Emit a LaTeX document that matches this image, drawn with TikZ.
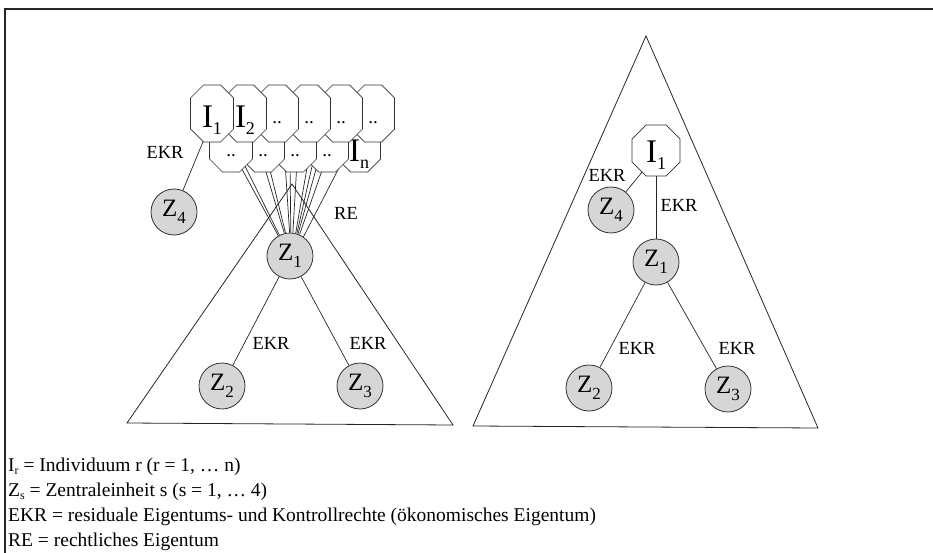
\documentclass[tikz,border=0pt]{standalone}
\usepackage{fontspec}
\setmainfont{Liberation Serif}
\usetikzlibrary{calc,backgrounds}
\newcommand\zsub[1]{\raisebox{-6.5pt}{\fontsize{17}{17}\selectfont #1}}
\newcommand\isub[1]{\raisebox{-6.5pt}{\fontsize{18}{18}\selectfont #1}}
\newcommand\legsub[1]{\raisebox{-3pt}{\fontsize{12}{12}\selectfont #1}}
\newcommand\dotsf{{\fontsize{19}{19}\selectfont ..}}
\newcommand\octnode[8]{%
  \draw[octline] ({#2-#4/2+#6},{#3-#5/2}) -- ({#2+#4/2-#6},{#3-#5/2}) -- ({#2+#4/2},{#3-#5/2+#6}) -- ({#2+#4/2},{#3+#5/2-#6}) -- ({#2+#4/2-#6},{#3+#5/2}) -- ({#2-#4/2+#6},{#3+#5/2}) -- ({#2-#4/2},{#3+#5/2-#6}) -- ({#2-#4/2},{#3-#5/2+#6}) -- cycle;
  \node[octtext] (#1) at (#2,#7) {#8};
}
\tikzset{
  octline/.style={draw=black!80, fill=white, line width=0.7pt, line join=miter},
  octtext/.style={inner sep=0pt, font=\fontsize{33}{33}\selectfont},
  zc/.style={circle, draw=black!80, fill=gray!32, line width=0.8pt, minimum size=46pt, inner sep=0pt, font=\fontsize{25}{25}\selectfont},
  lab/.style={inner sep=0pt, font=\fontsize{18.5}{18.5}\selectfont},
  conn/.style={draw=black!85, line width=0.7pt},
  tri/.style={draw=black!85, line width=0.8pt},
  legend/.style={inner sep=0pt, anchor=base west, font=\fontsize{19.5}{19.5}\selectfont},
  frame/.style={draw=black!85, line width=1.2pt}
}
\begin{document}
\begin{tikzpicture}[x=1pt,y=-1pt]
\useasboundingbox (0,0) rectangle (933,553);
\draw[frame] (933,9) -- (5,9) -- (5,553);

% ---------- left part ----------
\draw[tri] (292,184) -- (127,423) -- (453,425) -- cycle;

\node[zc] (Z1) at (290,256) {Z\zsub{1}};
\node[zc] (Z2) at (222,386) {Z\zsub{2}};
\node[zc] (Z3) at (360,386) {Z\zsub{3}};
\node[zc] (Z4) at (174,212) {Z\zsub{4}};

% bottom row octagons (drawn right to left)
\octnode{b5}{359}{143.5}{43}{57}{13}{154}{I\isub{n}}
\octnode{b4}{327}{143.5}{43}{57}{13}{156}{\dotsf}
\octnode{b3}{295}{143.5}{43}{57}{13}{156}{\dotsf}
\octnode{b2}{263}{143.5}{43}{57}{13}{156}{\dotsf}
\octnode{b1}{231}{143.5}{43}{57}{13}{156}{\dotsf}
% top row octagons (drawn right to left)
\octnode{t6}{373}{113.5}{43}{57}{13}{123}{\dotsf}
\octnode{t5}{341}{113.5}{43}{57}{13}{123}{\dotsf}
\octnode{t4}{309}{113.5}{43}{57}{13}{123}{\dotsf}
\octnode{t3}{277}{113.5}{43}{57}{13}{123}{\dotsf}
\octnode{t2}{245}{113.5}{43}{57}{13}{120}{I\isub{2}}
\octnode{t1}{212}{113.5}{43}{57}{13}{120}{I\isub{1}}

\begin{pgfonlayer}{background}
  \draw[conn] (t1.center) -- (Z4.center);
  \draw[conn] (Z1) -- (Z2);
  \draw[conn] (Z1) -- (Z3);
  \foreach \sx/\ang in {238/120, 243/117, 263/104, 268/101, 285/91, 290/88, 297/83, 308/76, 313/73, 318/70, 325/66, 342/55}
    \draw[conn] (\sx,162) -- (Z1.\ang);
\end{pgfonlayer}

\node[lab] (lEKRa) at (165,152) {EKR};
\node[lab] (lRE)   at (346,213) {RE};
\node[lab] (lEKRb) at (271,343) {EKR};
\node[lab] (lEKRc) at (368,343) {EKR};

% ---------- right part ----------
\draw[tri] (646,36) -- (473,426) -- (818,428) -- cycle;
\octnode{rI1}{656}{150.5}{48}{51}{14}{155}{I\isub{1}}
\node[zc] (rZ1) at (656,262) {Z\zsub{1}};
\node[zc] (rZ2) at (589,388) {Z\zsub{2}};
\node[zc] (rZ3) at (728,389) {Z\zsub{3}};
\node[zc] (rZ4) at (611,210) {Z\zsub{4}};
\begin{pgfonlayer}{background}
  \draw[conn] (rI1.center) -- (rZ4.center);
  \draw[conn] (rI1.center) -- (rZ1.center);
  \draw[conn] (rZ1) -- (rZ2);
  \draw[conn] (rZ1) -- (rZ3);
\end{pgfonlayer}
\node[lab] (rEKRa) at (607,175) {EKR};
\node[lab] (rEKRb) at (679,205) {EKR};
\node[lab] (rEKRc) at (637,348) {EKR};
\node[lab] (rEKRd) at (737,348) {EKR};

% ---------- legend ----------
\node[legend] (leg1) at (8,471) {I\legsub{r} = Individuum r (r = 1, … n)};
\node[legend] (leg2) at (8,496) {Z\legsub{s} = Zentraleinheit s (s = 1, … 4)};
\node[legend] (leg3) at (8,521) {EKR = residuale Eigentums- und Kontrollrechte (ökonomisches Eigentum)};
\node[legend] (leg4) at (8,546) {RE = rechtliches Eigentum};
\end{tikzpicture}
\end{document}
